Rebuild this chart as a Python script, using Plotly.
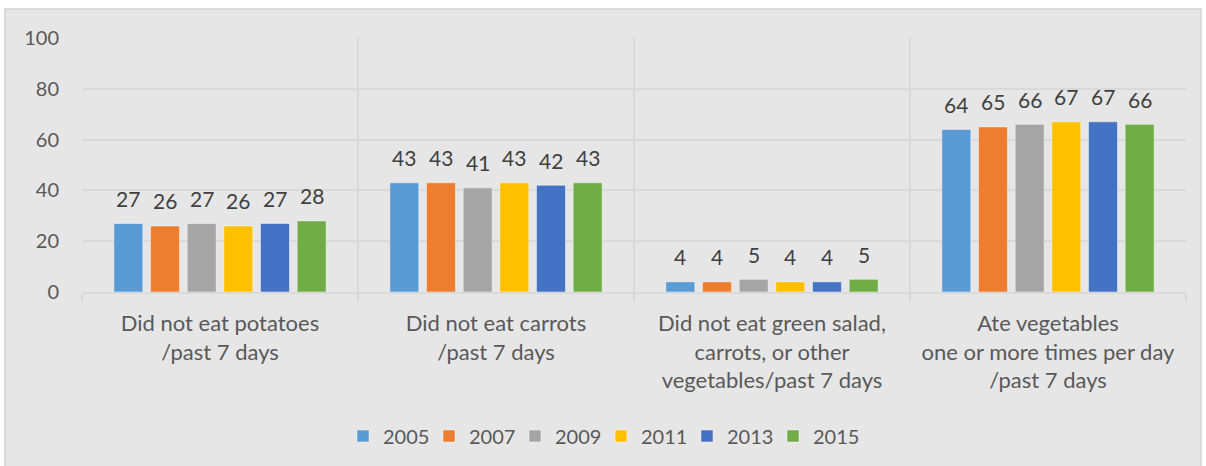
import plotly.graph_objects as go

categories = [
    "Did not eat potatoes<br>/past 7 days",
    "Did not eat carrots<br>/past 7 days",
    "Did not eat green salad,<br>carrots, or other<br>vegetables/past 7 days",
    "Ate vegetables<br>one or more times per day<br>/past 7 days",
]
years = ["2005", "2007", "2009", "2011", "2013", "2015"]
values = {
    "2005": [27, 43, 4, 64],
    "2007": [26, 43, 4, 65],
    "2009": [27, 41, 5, 66],
    "2011": [26, 43, 4, 67],
    "2013": [27, 42, 4, 67],
    "2015": [28, 43, 5, 66],
}
colors = ["#5B9BD5", "#ED7D31", "#A5A5A5", "#FFC000", "#4472C4", "#70AD47"]

FONT = "Lato"
TXT = "#595959"
GRID = "#d9d9d9"
BARGAP = 0.203
GROUPGAP = 0.21

fig = go.Figure()
for y, c in zip(years, colors):
    fig.add_trace(go.Bar(
        name=y, x=categories, y=values[y],
        marker=dict(color=c, line=dict(color="rgba(255,255,255,0.45)", width=1)),
        hoverinfo="skip",
    ))

# data labels above each bar
n = len(years)
slot = (1 - BARGAP) / n
for j, y in enumerate(years):
    off = -(1 - BARGAP) / 2 + (j + 0.5) * slot
    for i, v in enumerate(values[y]):
        fig.add_annotation(x=i + off, y=v, xref="x", yref="y", text=str(v),
                           showarrow=False, yanchor="middle", yshift=25,
                           font=dict(family=FONT, size=21, color="#404040"))

l, r, t, b = 82, 20, 38, 173
W, H = 1206, 466
pw, ph = W - l - r, H - t - b
fig.add_shape(type="rect", xref="paper", yref="paper", layer="below",
              x0=(5 - l) / pw, x1=(1201 - l) / pw,
              y0=(t + ph - 470) / ph, y1=(t + ph - 9) / ph,
              fillcolor="#e6e6e6", line=dict(color="#d4d4d4", width=1.5))

fig.update_layout(
    width=W, height=H,
    margin=dict(l=l, r=r, t=t, b=b),
    paper_bgcolor="white", plot_bgcolor="rgba(0,0,0,0)",
    barmode="group", bargap=BARGAP, bargroupgap=GROUPGAP,
    font=dict(family=FONT, size=20, color=TXT),
    showlegend=True,
    legend=dict(orientation="h", x=(601 - l) / pw, xanchor="center",
                y=(t + ph - 436) / ph, yanchor="middle",
                entrywidth=41, entrywidthmode="pixels",
                font=dict(family=FONT, size=20, color=TXT),
                bgcolor="rgba(0,0,0,0)", traceorder="normal"),
    xaxis=dict(type="category", categoryorder="array", categoryarray=categories,
               showgrid=True, gridcolor=GRID, gridwidth=1.5,
               showline=True, linecolor=GRID, linewidth=1.5,
               ticks="outside", ticklen=8, tickcolor=GRID, tickwidth=1.5,
               tickson="boundaries", ticklabelstandoff=11,
               tickfont=dict(family=FONT, size=22, color=TXT)),
    yaxis=dict(range=[0, 100], dtick=20, showgrid=True, gridcolor=GRID,
               gridwidth=1.5, zeroline=False, showline=False,
               ticklabelstandoff=22,
               tickfont=dict(family=FONT, size=20, color=TXT)),
)

fig.write_html("out.html", post_script="document.body.style.margin='0';",
               config={"displayModeBar": False})
